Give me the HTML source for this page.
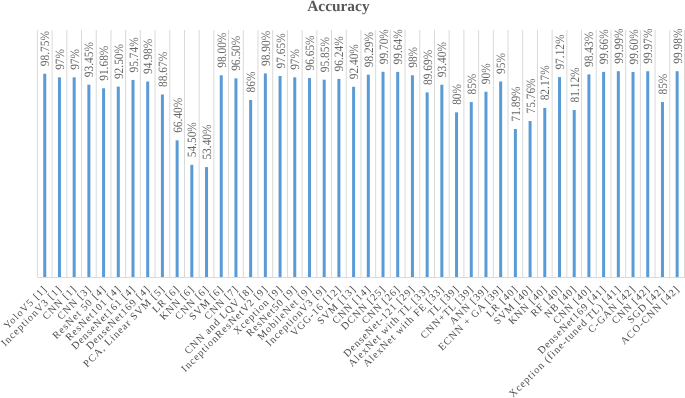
<!DOCTYPE html><html><head><meta charset="utf-8"><style>html,body{margin:0;padding:0;background:#fff;width:685px;height:398px;overflow:hidden}svg{display:block;will-change:transform}text{font-family:"Liberation Serif",serif;text-rendering:geometricPrecision}</style></head><body>
<svg width="685" height="398" viewBox="0 0 685 398">
<path d="M37.40 30V277M52.11 30V277M66.81 30V277M81.52 30V277M96.23 30V277M110.94 30V277M125.64 30V277M140.35 30V277M155.06 30V277M169.76 30V277M184.47 30V277M199.18 30V277M213.88 30V277M228.59 30V277M243.30 30V277M258.00 30V277M272.71 30V277M287.42 30V277M302.13 30V277M316.83 30V277M331.54 30V277M346.25 30V277M360.95 30V277M375.66 30V277M390.37 30V277M405.07 30V277M419.78 30V277M434.49 30V277M449.20 30V277M463.90 30V277M478.61 30V277M493.32 30V277M508.02 30V277M522.73 30V277M537.44 30V277M552.14 30V277M566.85 30V277M581.56 30V277M596.27 30V277M610.97 30V277M625.68 30V277M640.39 30V277M655.09 30V277M669.80 30V277M684.51 30V277" stroke="#d9d9d9" stroke-width="1" fill="none"/>
<g fill="#5b9bd5"><rect x="43.25" y="73.74" width="3" height="203.26"/><rect x="57.96" y="77.34" width="3" height="199.66"/><rect x="72.67" y="77.34" width="3" height="199.66"/><rect x="87.37" y="84.65" width="3" height="192.35"/><rect x="102.08" y="88.29" width="3" height="188.71"/><rect x="116.79" y="86.60" width="3" height="190.40"/><rect x="131.50" y="79.94" width="3" height="197.06"/><rect x="146.20" y="81.50" width="3" height="195.50"/><rect x="160.91" y="94.49" width="3" height="182.51"/><rect x="175.62" y="140.33" width="3" height="136.67"/><rect x="190.32" y="164.82" width="3" height="112.18"/><rect x="205.03" y="167.08" width="3" height="109.92"/><rect x="219.74" y="75.28" width="3" height="201.72"/><rect x="234.44" y="78.37" width="3" height="198.63"/><rect x="249.15" y="99.98" width="3" height="177.02"/><rect x="263.86" y="73.43" width="3" height="203.57"/><rect x="278.57" y="76.00" width="3" height="201.00"/><rect x="293.27" y="77.34" width="3" height="199.66"/><rect x="307.98" y="78.06" width="3" height="198.94"/><rect x="322.69" y="79.71" width="3" height="197.29"/><rect x="337.39" y="78.91" width="3" height="198.09"/><rect x="352.10" y="86.81" width="3" height="190.19"/><rect x="366.81" y="74.69" width="3" height="202.31"/><rect x="381.51" y="71.78" width="3" height="205.22"/><rect x="396.22" y="71.91" width="3" height="205.09"/><rect x="410.93" y="75.28" width="3" height="201.72"/><rect x="425.64" y="92.39" width="3" height="184.61"/><rect x="440.34" y="84.75" width="3" height="192.25"/><rect x="455.05" y="112.33" width="3" height="164.67"/><rect x="469.76" y="102.04" width="3" height="174.96"/><rect x="484.46" y="91.75" width="3" height="185.25"/><rect x="499.17" y="81.46" width="3" height="195.54"/><rect x="513.88" y="129.03" width="3" height="147.97"/><rect x="528.58" y="121.06" width="3" height="155.94"/><rect x="543.29" y="107.87" width="3" height="169.13"/><rect x="558.00" y="77.09" width="3" height="199.91"/><rect x="572.71" y="110.03" width="3" height="166.97"/><rect x="587.41" y="74.40" width="3" height="202.60"/><rect x="602.12" y="71.87" width="3" height="205.13"/><rect x="616.83" y="71.19" width="3" height="205.81"/><rect x="631.53" y="71.99" width="3" height="205.01"/><rect x="646.24" y="71.23" width="3" height="205.77"/><rect x="660.95" y="102.04" width="3" height="174.96"/><rect x="675.65" y="71.21" width="3" height="205.79"/></g>
<path d="M37.40 277.5H685" stroke="#d9d9d9" stroke-width="1" fill="none"/>
<g fill="#666666" font-size="12" letter-spacing="0"><text transform="translate(49.25 66.24) rotate(-90) scale(0.95 1.06)">98.75%</text><text transform="translate(63.96 69.84) rotate(-90) scale(0.95 1.06)">97%</text><text transform="translate(78.67 69.84) rotate(-90) scale(0.95 1.06)">97%</text><text transform="translate(93.37 77.15) rotate(-90) scale(0.95 1.06)">93.45%</text><text transform="translate(108.08 80.79) rotate(-90) scale(0.95 1.06)">91.68%</text><text transform="translate(122.79 79.10) rotate(-90) scale(0.95 1.06)">92.50%</text><text transform="translate(137.50 72.44) rotate(-90) scale(0.95 1.06)">95.74%</text><text transform="translate(152.20 74.00) rotate(-90) scale(0.95 1.06)">94.98%</text><text transform="translate(166.91 86.99) rotate(-90) scale(0.95 1.06)">88.67%</text><text transform="translate(181.62 132.83) rotate(-90) scale(0.95 1.06)">66.40%</text><text transform="translate(196.32 157.32) rotate(-90) scale(0.95 1.06)">54.50%</text><text transform="translate(211.03 159.58) rotate(-90) scale(0.95 1.06)">53.40%</text><text transform="translate(225.74 67.78) rotate(-90) scale(0.95 1.06)">98.00%</text><text transform="translate(240.44 70.87) rotate(-90) scale(0.95 1.06)">96.50%</text><text transform="translate(255.15 92.48) rotate(-90) scale(0.95 1.06)">86%</text><text transform="translate(269.86 65.93) rotate(-90) scale(0.95 1.06)">98.90%</text><text transform="translate(284.57 68.50) rotate(-90) scale(0.95 1.06)">97.65%</text><text transform="translate(299.27 69.84) rotate(-90) scale(0.95 1.06)">97%</text><text transform="translate(313.98 70.56) rotate(-90) scale(0.95 1.06)">96.65%</text><text transform="translate(328.69 72.21) rotate(-90) scale(0.95 1.06)">95.85%</text><text transform="translate(343.39 71.41) rotate(-90) scale(0.95 1.06)">96.24%</text><text transform="translate(358.10 79.31) rotate(-90) scale(0.95 1.06)">92.40%</text><text transform="translate(372.81 67.19) rotate(-90) scale(0.95 1.06)">98.29%</text><text transform="translate(387.51 64.28) rotate(-90) scale(0.95 1.06)">99.70%</text><text transform="translate(402.22 64.41) rotate(-90) scale(0.95 1.06)">99.64%</text><text transform="translate(416.93 67.78) rotate(-90) scale(0.95 1.06)">98%</text><text transform="translate(431.64 84.89) rotate(-90) scale(0.95 1.06)">89.69%</text><text transform="translate(446.34 77.25) rotate(-90) scale(0.95 1.06)">93.40%</text><text transform="translate(461.05 104.83) rotate(-90) scale(0.95 1.06)">80%</text><text transform="translate(475.76 94.54) rotate(-90) scale(0.95 1.06)">85%</text><text transform="translate(490.46 84.25) rotate(-90) scale(0.95 1.06)">90%</text><text transform="translate(505.17 73.96) rotate(-90) scale(0.95 1.06)">95%</text><text transform="translate(519.88 121.53) rotate(-90) scale(0.95 1.06)">71.89%</text><text transform="translate(534.58 113.56) rotate(-90) scale(0.95 1.06)">75.76%</text><text transform="translate(549.29 100.37) rotate(-90) scale(0.95 1.06)">82.17%</text><text transform="translate(564.00 69.59) rotate(-90) scale(0.95 1.06)">97.12%</text><text transform="translate(578.71 102.53) rotate(-90) scale(0.95 1.06)">81.12%</text><text transform="translate(593.41 66.90) rotate(-90) scale(0.95 1.06)">98.43%</text><text transform="translate(608.12 64.37) rotate(-90) scale(0.95 1.06)">99.66%</text><text transform="translate(622.83 63.69) rotate(-90) scale(0.95 1.06)">99.99%</text><text transform="translate(637.53 64.49) rotate(-90) scale(0.95 1.06)">99.60%</text><text transform="translate(652.24 63.73) rotate(-90) scale(0.95 1.06)">99.97%</text><text transform="translate(666.95 94.54) rotate(-90) scale(0.95 1.06)">85%</text><text transform="translate(681.65 63.71) rotate(-90) scale(0.95 1.06)">99.98%</text></g>
<g fill="#4d4d4d" font-size="10.3" letter-spacing="1.0"><text transform="translate(47.75 289.50) rotate(-45)" text-anchor="end">YoloV5 [1]</text><text transform="translate(62.46 289.50) rotate(-45)" text-anchor="end">InceptionV3 [1]</text><text transform="translate(77.17 289.50) rotate(-45)" text-anchor="end">CNN [1]</text><text transform="translate(91.87 289.50) rotate(-45)" text-anchor="end">CNN [3]</text><text transform="translate(106.58 289.50) rotate(-45)" text-anchor="end">ResNet 50 [4]</text><text transform="translate(121.29 289.50) rotate(-45)" text-anchor="end">ResNet101 [4]</text><text transform="translate(136.00 289.50) rotate(-45)" text-anchor="end">DenseNet161 [4]</text><text transform="translate(150.70 289.50) rotate(-45)" text-anchor="end">DenseNet169 [4]</text><text transform="translate(165.41 289.50) rotate(-45)" text-anchor="end">PCA, Linear SVM [5]</text><text transform="translate(180.12 289.50) rotate(-45)" text-anchor="end">LR [6]</text><text transform="translate(194.82 289.50) rotate(-45)" text-anchor="end">KNN [6]</text><text transform="translate(209.53 289.50) rotate(-45)" text-anchor="end">CNN [6]</text><text transform="translate(224.24 289.50) rotate(-45)" text-anchor="end">SVM [6]</text><text transform="translate(238.94 289.50) rotate(-45)" text-anchor="end">CNN [7]</text><text transform="translate(253.65 289.50) rotate(-45)" text-anchor="end">CNN and LQV [8]</text><text transform="translate(268.36 289.50) rotate(-45)" text-anchor="end">InceptionResNetV2 [9]</text><text transform="translate(283.07 289.50) rotate(-45)" text-anchor="end">Xception [9]</text><text transform="translate(297.77 289.50) rotate(-45)" text-anchor="end">ResNet50 [9]</text><text transform="translate(312.48 289.50) rotate(-45)" text-anchor="end">MobileNet [9]</text><text transform="translate(327.19 289.50) rotate(-45)" text-anchor="end">InceptionV3 [9]</text><text transform="translate(341.89 289.50) rotate(-45)" text-anchor="end">VGG-16 [12]</text><text transform="translate(356.60 289.50) rotate(-45)" text-anchor="end">SVM [13]</text><text transform="translate(371.31 289.50) rotate(-45)" text-anchor="end">CNN [14]</text><text transform="translate(386.01 289.50) rotate(-45)" text-anchor="end">DCNN [25]</text><text transform="translate(400.72 289.50) rotate(-45)" text-anchor="end">CNN [26]</text><text transform="translate(415.43 289.50) rotate(-45)" text-anchor="end">DenseNet-121 [29]</text><text transform="translate(430.14 289.50) rotate(-45)" text-anchor="end">AlexNet with TL [33]</text><text transform="translate(444.84 289.50) rotate(-45)" text-anchor="end">AlexNet with FE [33]</text><text transform="translate(459.55 289.50) rotate(-45)" text-anchor="end">TL [39]</text><text transform="translate(474.26 289.50) rotate(-45)" text-anchor="end">CNN+TL [39]</text><text transform="translate(488.96 289.50) rotate(-45)" text-anchor="end">ANN [39]</text><text transform="translate(503.67 289.50) rotate(-45)" text-anchor="end">ECNN + GA [39]</text><text transform="translate(518.38 289.50) rotate(-45)" text-anchor="end">LR [40]</text><text transform="translate(533.08 289.50) rotate(-45)" text-anchor="end">SVM [40]</text><text transform="translate(547.79 289.50) rotate(-45)" text-anchor="end">KNN [40]</text><text transform="translate(562.50 289.50) rotate(-45)" text-anchor="end">RF [40]</text><text transform="translate(577.21 289.50) rotate(-45)" text-anchor="end">NB [40]</text><text transform="translate(591.91 289.50) rotate(-45)" text-anchor="end">CNN [40]</text><text transform="translate(606.62 289.50) rotate(-45)" text-anchor="end">DenseNet169 [41]</text><text transform="translate(621.33 289.50) rotate(-45)" text-anchor="end">Xception (fine-tuned TL) [41]</text><text transform="translate(636.03 289.50) rotate(-45)" text-anchor="end">C-GAN [42]</text><text transform="translate(650.74 289.50) rotate(-45)" text-anchor="end">CNN [42]</text><text transform="translate(665.45 289.50) rotate(-45)" text-anchor="end">SGD [42]</text><text transform="translate(680.15 289.50) rotate(-45)" text-anchor="end">ACO-CNN [42]</text></g>
<text x="338.4" y="10.8" text-anchor="middle" font-weight="bold" font-size="15.4" fill="#595959">Accuracy</text>
</svg></body></html>
